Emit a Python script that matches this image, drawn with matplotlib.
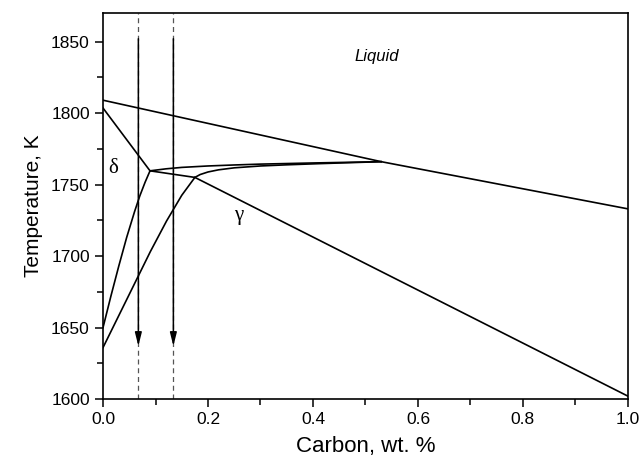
import matplotlib
matplotlib.use("Agg")
import matplotlib.pyplot as plt
from matplotlib.ticker import MultipleLocator

plt.rcParams["font.family"] = ["Liberation Sans", "DejaVu Sans"]

# Liquidus (kink at the peritectic liquid composition)
liq_c = [0.0, 0.53, 1.0]
liq_t = [1809, 1766, 1733]

# delta/liquid boundary from pure iron down to the peritectic point
delta_top_c = [0.0, 0.0895]
delta_top_t = [1803.5, 1759.6]

# lower delta boundary
delta_low_c = [0.0, 0.015, 0.03, 0.045, 0.06, 0.07, 0.08, 0.0895]
delta_low_t = [1650, 1672, 1693, 1713, 1731, 1742, 1751.5, 1759.6]

# lower gamma boundary
gamma_low_c = [0.0, 0.09, 0.121, 0.15, 0.175]
gamma_low_t = [1636, 1703, 1724.5, 1742.5, 1755]

# upper line from peritectic point to liquid composition
peri_up_c = [0.0895, 0.12, 0.15, 0.20, 0.25, 0.30, 0.40, 0.53]
peri_up_t = [1759.6, 1761.0, 1762.0, 1763.0, 1763.7, 1764.3, 1765.1, 1766]

# curve from gamma corner up to liquid composition
gamma_up_c = [0.175, 0.185, 0.20, 0.22, 0.25, 0.30, 0.35, 0.41, 0.47, 0.53]
gamma_up_t = [1755, 1757, 1758.8, 1760.3, 1761.7, 1763, 1763.8, 1764.6, 1765.3, 1766]

# line from peritectic point through gamma corner down to 1.0 wt.%
gamma_sol_c = [0.0895, 0.175, 1.0]
gamma_sol_t = [1759.6, 1755, 1602]

# compositions marked by arrows
arrow_c = [0.0673, 0.134]
arrow_top = 1852
arrow_tip = 1637

fig = plt.figure(figsize=(6.44, 4.61), dpi=100)
ax = fig.add_axes([0.16, 0.1345, 0.815, 0.8373])

lw = 1.2
for c, t in [(liq_c, liq_t), (delta_top_c, delta_top_t), (delta_low_c, delta_low_t),
             (gamma_low_c, gamma_low_t), (peri_up_c, peri_up_t),
             (gamma_up_c, gamma_up_t), (gamma_sol_c, gamma_sol_t)]:
    ax.plot(c, t, color="black", lw=lw, solid_joinstyle="round")

for c in arrow_c:
    ax.axvline(c, color="#555555", lw=0.9, ls=(0, (4, 3)))
    ax.annotate("", xy=(c, arrow_tip), xytext=(c, arrow_top),
                arrowprops=dict(arrowstyle="-|>,head_length=0.8,head_width=0.2",
                                color="black", lw=1.1, shrinkA=0, shrinkB=0))

ax.text(0.522, 1839.5, "Liquid", fontsize=12, style="italic", ha="center", va="center")
ax.text(0.019, 1761.5, "δ", fontsize=15, family=["Liberation Serif", "DejaVu Serif"],
        ha="center", va="center")
ax.text(0.259, 1728.6, "γ", fontsize=15, family=["Liberation Serif", "DejaVu Serif"],
        ha="center", va="center")

ax.set_xlim(0, 1.0)
ax.set_ylim(1600, 1870)
ax.xaxis.set_major_locator(MultipleLocator(0.2))
ax.xaxis.set_minor_locator(MultipleLocator(0.1))
ax.yaxis.set_major_locator(MultipleLocator(50))
ax.yaxis.set_minor_locator(MultipleLocator(25))
ax.xaxis.set_major_formatter(plt.FuncFormatter(lambda v, p: f"{v:.1f}"))
ax.tick_params(which="both", direction="out", top=False, right=False, width=1.1)
ax.tick_params(which="major", length=6, labelsize=12.5)
ax.tick_params(which="minor", length=4)
for s in ax.spines.values():
    s.set_linewidth(1.2)

ax.set_xlabel("Carbon, wt. %", fontsize=16, labelpad=6)
ax.set_ylabel("Temperature, K", fontsize=15, labelpad=6)

fig.savefig("out.png", dpi=100)
